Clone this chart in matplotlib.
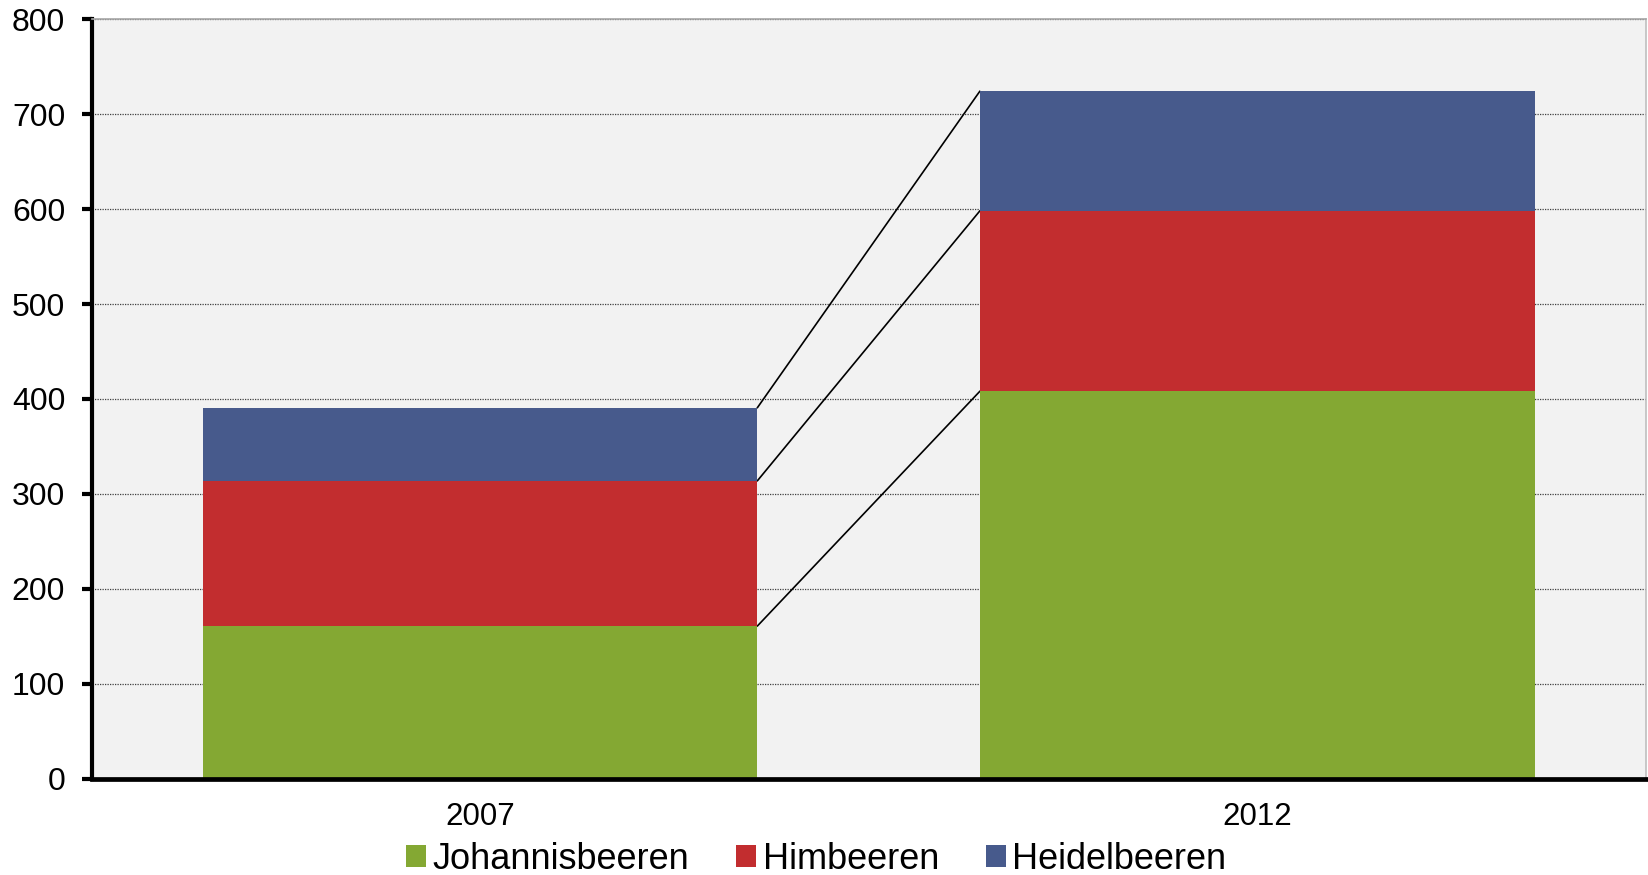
import numpy as np
import matplotlib.pyplot as plt
from matplotlib.patches import Patch

# ---------------------------------------------------------------------------
# Data
# ---------------------------------------------------------------------------
years = ['2007', '2012']
johannisbeeren = [161, 408]
himbeeren = [153, 190]
heidelbeeren = [77, 126]

series = [('Johannisbeeren', johannisbeeren, '#84A833'),
          ('Himbeeren', himbeeren, '#C22D2F'),
          ('Heidelbeeren', heidelbeeren, '#475A8C')]

plt.rcParams['font.family'] = ['Liberation Sans', 'DejaVu Sans']

fig = plt.figure(figsize=(16.49, 8.75), dpi=100)
ax = fig.add_axes([0.0555, 0.110, 0.9425, 0.868])
ax.set_facecolor('#F2F2F2')

x = np.arange(len(years))
width = 0.714
bottom = np.zeros(len(years))
tops = []
for name, vals, color in series:
    vals = np.array(vals, dtype=float)
    ax.bar(x, vals, width, bottom=bottom, color=color, label=name, zorder=3)
    bottom = bottom + vals
    tops.append(bottom.copy())

# series lines connecting the stacked segments
for t in tops:
    ax.plot([x[0] + width / 2, x[1] - width / 2], [t[0], t[1]],
            color='black', linewidth=1.2, zorder=2)

ax.set_xlim(-0.5, 1.5)
ax.set_ylim(0, 800)
ax.set_yticks(range(0, 801, 100))
ax.set_xticks(x)
ax.set_xticklabels(years)

ax.yaxis.grid(True, linestyle=(0, (1, 1)), color='#404040', linewidth=0.9, zorder=1)
ax.set_axisbelow(True)

ax.tick_params(axis='y', direction='out', length=7, width=3, pad=12, labelsize=23)
ax.tick_params(axis='x', length=0, pad=17, labelsize=22.5)

ax.spines['left'].set_linewidth(3)
ax.spines['bottom'].set_linewidth(3.4)
ax.spines['bottom'].set_zorder(5)
ax.spines['top'].set_color('#A6A6A6')
ax.spines['top'].set_linewidth(1.2)
ax.spines['right'].set_color('#BFBFBF')
ax.spines['right'].set_linewidth(1.2)

handles = [Patch(facecolor=c, label=n) for n, _, c in series]
fig.legend(handles=handles, loc='center', bbox_to_anchor=(0.495, 0.018), ncol=3,
           frameon=False, fontsize=26, handlelength=0.55, handleheight=0.55,
           handletextpad=0.18, columnspacing=1.3)

fig.savefig('out.png', dpi=100)
